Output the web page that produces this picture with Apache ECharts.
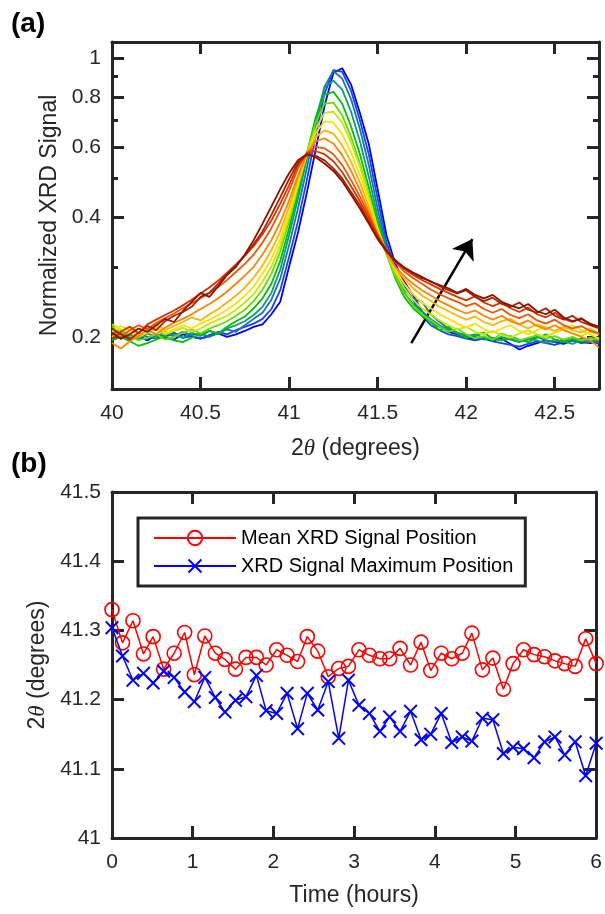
<!DOCTYPE html>
<html>
<head>
<meta charset="utf-8">
<script src="https://cdn.jsdelivr.net/npm/echarts@6/dist/echarts.min.js"></script>
<style>
html,body{margin:0;padding:0;background:#fff;}
#chart{width:605px;height:914px;}
</style>
</head>
<body>
<div id="chart"></div>
<script>
// ---------------- Panel (a) data: normalized XRD signal vs 2θ ----------------
const twoTheta = [40.00,40.05,40.10,40.15,40.20,40.25,40.30,40.35,40.40,40.45,
  40.50,40.55,40.60,40.65,40.70,40.75,40.80,40.85,40.90,40.95,
  41.00,41.05,41.10,41.15,41.20,41.25,41.30,41.35,41.40,41.45,
  41.50,41.55,41.60,41.65,41.70,41.75,41.80,41.85,41.90,41.95,
  42.00,42.05,42.10,42.15,42.20,42.25,42.30,42.35,42.40,42.45,
  42.50,42.55,42.60,42.65,42.70,42.75];

const scan01 = [0.205,0.198,0.203,0.200,0.196,0.202,0.199,0.197,0.203,0.200,
  0.198,0.201,0.204,0.200,0.203,0.207,0.212,0.215,0.228,0.245,
  0.300,0.365,0.460,0.590,0.760,0.920,0.945,0.860,0.730,0.610,
  0.470,0.360,0.305,0.275,0.255,0.232,0.218,0.212,0.206,0.203,
  0.200,0.197,0.199,0.196,0.198,0.192,0.186,0.190,0.193,0.196,
  0.194,0.192,0.196,0.194,0.193,0.195];
const scan02 = [0.200,0.204,0.199,0.201,0.197,0.203,0.200,0.205,0.199,0.201,
  0.198,0.202,0.206,0.203,0.208,0.212,0.216,0.222,0.235,0.262,
  0.318,0.390,0.495,0.640,0.815,0.935,0.925,0.830,0.700,0.575,
  0.445,0.345,0.298,0.268,0.248,0.226,0.214,0.208,0.203,0.201,
  0.198,0.196,0.198,0.195,0.193,0.191,0.189,0.192,0.195,0.193,
  0.191,0.194,0.196,0.193,0.195,0.192];
const scan03 = [0.208,0.203,0.199,0.204,0.200,0.198,0.203,0.201,0.206,0.202,
  0.204,0.200,0.205,0.209,0.206,0.214,0.222,0.230,0.248,0.280,
  0.340,0.420,0.530,0.680,0.850,0.930,0.890,0.790,0.665,0.540,
  0.420,0.335,0.290,0.262,0.250,0.245,0.228,0.218,0.210,0.205,
  0.202,0.200,0.197,0.199,0.196,0.198,0.195,0.197,0.200,0.196,
  0.194,0.197,0.195,0.198,0.196,0.194];
const scan04 = [0.203,0.207,0.201,0.198,0.204,0.200,0.206,0.202,0.199,0.205,
  0.201,0.207,0.203,0.210,0.214,0.219,0.227,0.238,0.258,0.295,
  0.360,0.445,0.560,0.705,0.845,0.880,0.835,0.735,0.620,0.505,
  0.400,0.330,0.285,0.258,0.242,0.232,0.222,0.214,0.208,0.204,
  0.201,0.203,0.199,0.196,0.200,0.197,0.194,0.198,0.196,0.193,
  0.197,0.195,0.192,0.196,0.194,0.197];
const scan05 = [0.196,0.200,0.195,0.190,0.193,0.197,0.201,0.196,0.194,0.199,
  0.203,0.207,0.204,0.212,0.219,0.225,0.236,0.250,0.272,0.310,
  0.375,0.460,0.575,0.710,0.810,0.825,0.770,0.675,0.575,0.475,
  0.385,0.325,0.280,0.252,0.236,0.226,0.218,0.208,0.212,0.204,
  0.199,0.202,0.205,0.198,0.196,0.201,0.197,0.194,0.199,0.203,
  0.197,0.194,0.198,0.195,0.199,0.196];
const scan06 = [0.212,0.206,0.201,0.196,0.199,0.203,0.197,0.200,0.205,0.209,
  0.204,0.210,0.214,0.219,0.226,0.234,0.246,0.263,0.288,0.328,
  0.390,0.475,0.580,0.690,0.770,0.775,0.720,0.635,0.545,0.455,
  0.375,0.322,0.283,0.257,0.240,0.228,0.220,0.212,0.206,0.210,
  0.203,0.198,0.201,0.197,0.204,0.200,0.196,0.199,0.202,0.198,
  0.201,0.197,0.200,0.196,0.199,0.197];
const scan07 = [0.215,0.209,0.204,0.200,0.205,0.209,0.203,0.207,0.211,0.206,
  0.210,0.216,0.221,0.226,0.234,0.244,0.256,0.275,0.300,0.340,
  0.400,0.480,0.575,0.665,0.730,0.735,0.690,0.615,0.535,0.450,
  0.375,0.325,0.290,0.265,0.248,0.236,0.228,0.220,0.214,0.209,
  0.212,0.206,0.203,0.207,0.202,0.199,0.204,0.208,0.203,0.200,
  0.205,0.209,0.204,0.201,0.206,0.203];
const scan08 = [0.206,0.213,0.208,0.202,0.207,0.212,0.205,0.209,0.214,0.210,
  0.216,0.221,0.227,0.234,0.243,0.254,0.268,0.288,0.314,0.352,
  0.410,0.488,0.575,0.650,0.695,0.690,0.645,0.580,0.510,0.440,
  0.372,0.326,0.295,0.272,0.256,0.244,0.236,0.228,0.222,0.216,
  0.211,0.216,0.209,0.205,0.210,0.214,0.207,0.203,0.208,0.212,
  0.206,0.210,0.214,0.208,0.203,0.198];
const scan09 = [0.200,0.207,0.212,0.205,0.210,0.215,0.208,0.213,0.218,0.224,
  0.220,0.228,0.235,0.244,0.254,0.266,0.282,0.302,0.330,0.368,
  0.425,0.498,0.575,0.635,0.660,0.648,0.605,0.550,0.488,0.425,
  0.365,0.325,0.298,0.280,0.265,0.254,0.246,0.238,0.232,0.226,
  0.221,0.225,0.218,0.214,0.219,0.222,0.215,0.210,0.215,0.211,
  0.207,0.212,0.208,0.205,0.210,0.203];
const scan10 = [0.193,0.187,0.195,0.201,0.208,0.203,0.211,0.217,0.222,0.228,
  0.235,0.242,0.250,0.260,0.272,0.285,0.300,0.322,0.350,0.388,
  0.440,0.508,0.575,0.620,0.630,0.612,0.572,0.522,0.468,0.412,
  0.360,0.324,0.300,0.284,0.272,0.262,0.254,0.246,0.240,0.234,
  0.229,0.233,0.226,0.221,0.226,0.219,0.215,0.220,0.213,0.209,
  0.214,0.208,0.204,0.200,0.196,0.188];
const scan11 = [0.205,0.200,0.208,0.214,0.209,0.217,0.223,0.229,0.236,0.243,
  0.250,0.258,0.267,0.278,0.291,0.305,0.322,0.345,0.375,0.415,
  0.465,0.530,0.580,0.600,0.595,0.575,0.540,0.495,0.450,0.405,
  0.362,0.330,0.308,0.292,0.281,0.272,0.263,0.256,0.250,0.245,
  0.239,0.243,0.235,0.230,0.235,0.227,0.223,0.228,0.220,0.216,
  0.221,0.214,0.210,0.213,0.207,0.204];
const scan12 = [0.198,0.206,0.212,0.204,0.215,0.221,0.227,0.233,0.240,0.248,
  0.257,0.266,0.277,0.290,0.304,0.320,0.338,0.362,0.392,0.432,
  0.480,0.540,0.578,0.585,0.575,0.552,0.518,0.478,0.438,0.398,
  0.358,0.330,0.310,0.296,0.286,0.278,0.271,0.264,0.258,0.252,
  0.247,0.253,0.244,0.239,0.244,0.236,0.231,0.237,0.228,0.224,
  0.230,0.222,0.218,0.223,0.215,0.212];
const scan13 = [0.210,0.203,0.197,0.205,0.213,0.208,0.219,0.226,0.231,0.238,
  0.252,0.258,0.272,0.288,0.302,0.320,0.342,0.368,0.405,0.448,
  0.498,0.548,0.573,0.570,0.555,0.530,0.500,0.462,0.428,0.390,
  0.355,0.330,0.312,0.298,0.289,0.281,0.276,0.268,0.262,0.257,
  0.262,0.252,0.246,0.251,0.242,0.238,0.244,0.234,0.230,0.236,
  0.226,0.221,0.226,0.218,0.214,0.210];
const scan14 = [0.205,0.198,0.203,0.210,0.206,0.214,0.222,0.218,0.232,0.245,
  0.258,0.252,0.268,0.286,0.300,0.322,0.350,0.385,0.425,0.470,
  0.515,0.555,0.575,0.565,0.545,0.522,0.492,0.455,0.420,0.385,
  0.352,0.328,0.310,0.299,0.290,0.283,0.275,0.270,0.265,0.258,
  0.264,0.255,0.250,0.255,0.245,0.240,0.236,0.242,0.232,0.228,
  0.234,0.224,0.219,0.222,0.216,0.212];

const scans = [scan01,scan02,scan03,scan04,scan05,scan06,scan07,
               scan08,scan09,scan10,scan11,scan12,scan13,scan14];

// tick values for panel (a)
const angleTicks = [40, 40.5, 41, 41.5, 42, 42.5];
const signalMajorTicks = [0.2, 0.4, 0.6, 0.8, 1];
const signalMinorTicks = [0.3, 0.5, 0.7, 0.9];
// annotation arrow (data coordinates)
const arrowFrom = [41.69, 0.193];
const arrowTo = [42.035, 0.352];

// ---------------- Panel (b) data: peak positions vs time ----------------
const hours = [0.00,0.13,0.26,0.39,0.51,0.64,0.77,0.90,1.02,1.15,
  1.28,1.40,1.53,1.66,1.79,1.91,2.04,2.17,2.30,2.42,
  2.55,2.68,2.81,2.93,3.06,3.19,3.32,3.44,3.57,3.70,
  3.83,3.95,4.08,4.21,4.34,4.46,4.59,4.72,4.85,4.97,
  5.10,5.23,5.36,5.49,5.61,5.74,5.87,6.00];
const meanPosition = [41.330,41.282,41.314,41.266,41.291,41.244,41.267,41.297,41.236,41.292,
  41.267,41.258,41.244,41.261,41.261,41.250,41.272,41.264,41.255,41.291,
  41.270,41.233,41.245,41.248,41.272,41.264,41.259,41.259,41.274,41.250,
  41.283,41.242,41.267,41.259,41.267,41.296,41.243,41.260,41.215,41.252,
  41.272,41.265,41.262,41.256,41.252,41.248,41.288,41.252];
const maxPosition = [41.304,41.263,41.228,41.238,41.224,41.241,41.232,41.211,41.197,41.232,
  41.203,41.182,41.199,41.204,41.235,41.184,41.180,41.209,41.158,41.209,
  41.185,41.226,41.144,41.228,41.192,41.180,41.154,41.175,41.154,41.183,
  41.142,41.150,41.180,41.138,41.146,41.140,41.173,41.171,41.122,41.131,
  41.129,41.116,41.139,41.146,41.120,41.139,41.090,41.137];

// ---------------- styling ----------------
const FONT = '"Liberation Sans", Arial, Helvetica, sans-serif';
const INK = '#262626';
const TICK_FS = 21, NAME_FS = 23;
const scanColors = ['#0000ff','#1448e0','#1a74b0','#0c9a78','#00c000','#66dc00','#c4e800',
                    '#ffe000','#ffb400','#ff8400','#f05400','#d83400','#b02000','#881400'];

const LOG_MIN = Math.log10(0.148), LOG_MAX = Math.log10(1.1);
const log10 = v => Math.log10(v);

const nameRich = {
  n: {fontSize: NAME_FS, color: INK, fontFamily: FONT},
  i: {fontSize: NAME_FS, color: INK, fontFamily: '"Liberation Serif", serif', fontStyle: 'italic'}
};

function frameAxis(extra) {
  return Object.assign({
    axisLine: {show: true, onZero: false, lineStyle: {color: INK, width: 3}},
    splitLine: {show: false},
    axisLabel: {show: false},
    axisTick: {show: true, inside: true, length: 12, lineStyle: {color: INK, width: 3}}
  }, extra);
}

const tickLabel = {show: true, fontSize: TICK_FS, color: INK, fontFamily: FONT};

const xAxes = [
  // panel a bottom
  frameAxis({gridIndex: 0, type: 'value', min: 40, max: 42.75, position: 'bottom',
    axisTick: {show: true, inside: true, length: 12, customValues: angleTicks, lineStyle: {color: INK, width: 3}},
    axisLabel: Object.assign({margin: 14, customValues: angleTicks}, tickLabel),
    name: '{n|2}{i|θ}{n| (degrees)}', nameLocation: 'middle', nameGap: 48,
    nameTextStyle: {fontSize: NAME_FS, color: INK, fontFamily: FONT, rich: nameRich}}),
  // panel a top
  frameAxis({gridIndex: 0, type: 'value', min: 40, max: 42.75, position: 'top',
    axisTick: {show: true, inside: true, length: 12, customValues: angleTicks, lineStyle: {color: INK, width: 3}}}),
  // panel b bottom
  frameAxis({gridIndex: 1, type: 'value', min: 0, max: 6, interval: 1, position: 'bottom',
    axisLabel: Object.assign({margin: 14}, tickLabel),
    name: 'Time (hours)', nameLocation: 'middle', nameGap: 46,
    nameTextStyle: {fontSize: NAME_FS, color: INK, fontFamily: FONT}}),
  // panel b top
  frameAxis({gridIndex: 1, type: 'value', min: 0, max: 6, interval: 1, position: 'top'})
];

const majorLogTicks = signalMajorTicks.map(log10);
const minorLogTicks = signalMinorTicks.map(log10);

const yAxes = [
  // 0: data axis for panel a (log scale, hidden)
  {gridIndex: 0, type: 'log', logBase: 10, min: 0.148, max: 1.1, show: false,
   axisLine: {onZero: false}, splitLine: {show: false}},
  // 1: left major ticks + labels
  frameAxis({gridIndex: 0, type: 'value', min: LOG_MIN, max: LOG_MAX, position: 'left',
    axisTick: {show: true, inside: true, length: 12, customValues: majorLogTicks, lineStyle: {color: INK, width: 3}},
    axisLabel: Object.assign({margin: 11, customValues: majorLogTicks,
      formatter: v => String(Math.round(Math.pow(10, v) * 10) / 10)}, tickLabel),
    name: 'Normalized XRD Signal', nameLocation: 'middle', nameGap: 51,
    nameTextStyle: {fontSize: NAME_FS, color: INK, fontFamily: FONT}}),
  // 2: left minor ticks
  frameAxis({gridIndex: 0, type: 'value', min: LOG_MIN, max: LOG_MAX, position: 'left',
    axisLine: {show: false, onZero: false},
    axisTick: {show: true, inside: true, length: 6, customValues: minorLogTicks, lineStyle: {color: INK, width: 3}}}),
  // 3: right major ticks
  frameAxis({gridIndex: 0, type: 'value', min: LOG_MIN, max: LOG_MAX, position: 'right',
    axisTick: {show: true, inside: true, length: 12, customValues: majorLogTicks, lineStyle: {color: INK, width: 3}}}),
  // 4: right minor ticks
  frameAxis({gridIndex: 0, type: 'value', min: LOG_MIN, max: LOG_MAX, position: 'right',
    axisLine: {show: false, onZero: false},
    axisTick: {show: true, inside: true, length: 6, customValues: minorLogTicks, lineStyle: {color: INK, width: 3}}}),
  // 5: panel b left
  frameAxis({gridIndex: 1, type: 'value', min: 41, max: 41.5, interval: 0.1, position: 'left',
    axisLabel: Object.assign({margin: 11}, tickLabel),
    name: '{n|2}{i|θ}{n| (degrees)}', nameLocation: 'middle', nameGap: 51,
    nameTextStyle: {fontSize: NAME_FS, color: INK, fontFamily: FONT, rich: nameRich}}),
  // 6: panel b right
  frameAxis({gridIndex: 1, type: 'value', min: 41, max: 41.5, interval: 0.1, position: 'right'})
];

const series = scans.map((vals, k) => ({
  type: 'line', xAxisIndex: 0, yAxisIndex: 0,
  data: twoTheta.map((x, i) => [x, vals[i]]),
  showSymbol: false, symbol: 'none', silent: true,
  lineStyle: {color: scanColors[k], width: 1.8},
  itemStyle: {color: scanColors[k]},
  z: 2 + k
}));

series.push({
  type: 'line', xAxisIndex: 0, yAxisIndex: 0, data: [], silent: true, z: 30,
  markLine: {
    silent: true, animation: false, symbol: ['none', 'arrow'], symbolSize: 19,
    lineStyle: {color: '#000', width: 2.5, type: 'solid'}, label: {show: false},
    data: [[{coord: arrowFrom}, {coord: arrowTo}]]
  }
});

const crossPath = 'path://M0,1.4L1.4,0L7,5.6L12.6,0L14,1.4L8.4,7L14,12.6L12.6,14L7,8.4L1.4,14L0,12.6L5.6,7Z';

series.push({
  name: 'Mean XRD Signal Position', type: 'line', xAxisIndex: 2, yAxisIndex: 5,
  data: hours.map((t, i) => [t, meanPosition[i]]),
  symbol: 'circle', symbolSize: 14, clip: false,
  lineStyle: {color: '#ff0000', width: 1.5},
  itemStyle: {color: 'rgba(255,255,255,0)', borderColor: '#ff0000', borderWidth: 1.6},
  z: 5
});
series.push({
  name: 'XRD Signal Maximum Position', type: 'line', xAxisIndex: 2, yAxisIndex: 5,
  data: hours.map((t, i) => [t, maxPosition[i]]),
  symbol: crossPath, symbolSize: 14, clip: false,
  lineStyle: {color: '#0000ff', width: 1.5},
  itemStyle: {color: '#0000ff'},
  z: 6
});

const option = {
  animation: false,
  backgroundColor: '#ffffff',
  textStyle: {fontFamily: FONT},
  title: [
    {text: '(a)', left: 11, top: 10, padding: 0,
     textStyle: {fontSize: 28, fontWeight: 'bold', color: '#000', fontFamily: FONT}},
    {text: '(b)', left: 11, top: 450, padding: 0,
     textStyle: {fontSize: 28, fontWeight: 'bold', color: '#000', fontFamily: FONT}}
  ],
  grid: [
    {left: 112, top: 42, width: 487, height: 347, containLabel: false},
    {left: 112, top: 492, width: 487, height: 346, containLabel: false}
  ],
  legend: {
    data: ['Mean XRD Signal Position', 'XRD Signal Maximum Position'],
    orient: 'vertical', left: 138, top: 518,
    backgroundColor: '#ffffff', borderColor: INK, borderWidth: 3,
    padding: [10, 12, 10, 15], itemWidth: 82, itemHeight: 18, itemGap: 8,
    textStyle: {fontSize: 20, color: '#000', fontFamily: FONT, lineHeight: 20},
    selectedMode: false
  },
  xAxis: xAxes,
  yAxis: yAxes,
  series: series
};

const chart = echarts.init(document.getElementById('chart'), null, {renderer: 'canvas'});
chart.setOption(option);
</script>
</body>
</html>
